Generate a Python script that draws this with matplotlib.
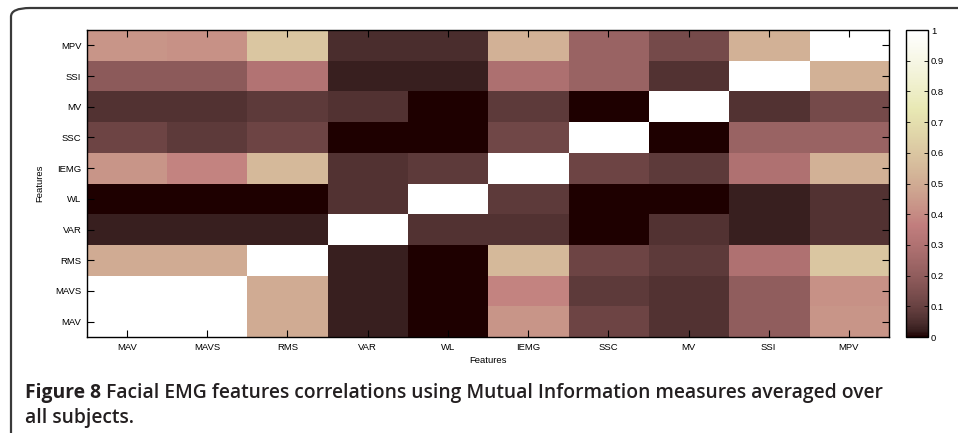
import numpy as np
import matplotlib.pyplot as plt
from matplotlib.patches import FancyBboxPatch

# features, bottom row / left column first
features = ['MAV', 'MAVS', 'RMS', 'VAR', 'WL', 'IEMG', 'SSC', 'MV', 'SSI', 'MPV']

# mutual information averaged over subjects
mi_mav = [1.00, 1.00, 0.50, 0.025, 0.00, 0.43, 0.11, 0.06, 0.20, 0.43]
mi_mavs = [1.00, 1.00, 0.50, 0.025, 0.00, 0.38, 0.08, 0.06, 0.20, 0.42]
mi_rms = [0.50, 0.50, 1.00, 0.025, 0.00, 0.55, 0.11, 0.08, 0.30, 0.60]
mi_var = [0.025, 0.025, 0.025, 1.00, 0.06, 0.06, 0.00, 0.06, 0.025, 0.06]
mi_wl = [0.00, 0.00, 0.00, 0.06, 1.00, 0.08, 0.00, 0.00, 0.025, 0.06]
mi_iemg = [0.43, 0.38, 0.55, 0.06, 0.08, 1.00, 0.11, 0.08, 0.30, 0.52]
mi_ssc = [0.11, 0.08, 0.11, 0.00, 0.00, 0.12, 1.00, 0.00, 0.23, 0.23]
mi_mv = [0.06, 0.06, 0.08, 0.06, 0.00, 0.08, 0.00, 1.00, 0.06, 0.13]
mi_ssi = [0.19, 0.19, 0.31, 0.025, 0.025, 0.29, 0.23, 0.06, 1.00, 0.52]
mi_mpv = [0.43, 0.42, 0.60, 0.05, 0.05, 0.52, 0.23, 0.13, 0.52, 1.00]

cbar_ticks = [0, 0.1, 0.2, 0.3, 0.4, 0.5, 0.6, 0.7, 0.8, 0.9, 1]

M = np.array([mi_mav, mi_mavs, mi_rms, mi_var, mi_wl,
              mi_iemg, mi_ssc, mi_mv, mi_ssi, mi_mpv])

plt.rcParams['font.family'] = ['Liberation Sans', 'DejaVu Sans']

fig = plt.figure(figsize=(9.58, 4.33), dpi=100)

ax = fig.add_axes([0.0908, 0.2217, 0.8372, 0.709])
im = ax.imshow(M, cmap='pink', vmin=0, vmax=1, aspect='auto',
               origin='lower', interpolation='nearest')

ax.set_xticks(np.arange(len(features)))
ax.set_xticklabels(features, fontsize=6.8)
ax.set_yticks(np.arange(len(features)))
ax.set_yticklabels(features, fontsize=6.8)
ax.tick_params(direction='in', top=True, right=True, length=5, width=0.8, pad=4)
ax.set_xlabel('Features', fontsize=6.8, labelpad=3)
ax.set_ylabel('Features', fontsize=6.8, labelpad=8)
for s in ax.spines.values():
    s.set_linewidth(1.0)

cax = fig.add_axes([0.9457, 0.2217, 0.023, 0.709])
cb = fig.colorbar(im, cax=cax, ticks=cbar_ticks)
cb.ax.set_yticklabels(['0', '0.1', '0.2', '0.3', '0.4', '0.5', '0.6', '0.7', '0.8', '0.9', '1'])
cb.ax.tick_params(labelsize=6.8, direction='in', left=True, right=True, length=3, width=0.6, pad=2)
cb.outline.set_linewidth(1.0)

# frame around the figure, rounded corner top left
frame = FancyBboxPatch((11 / 958, -0.2), 1.2, (433 - 8) / 433 + 0.2,
                       boxstyle='round,pad=0,rounding_size=0.02',
                       transform=fig.transFigure, fill=False,
                       edgecolor='#3a3a3a', linewidth=1.6, clip_on=False)
fig.patches.append(frame)

# caption
cap_color = '#231f20'
cap_size = 13.9
t1 = fig.text(25 / 958, 1 - 393 / 433, 'Figure 8', fontsize=cap_size, fontweight='bold',
              family='Open Sans', color=cap_color, va='center', ha='left')
r = fig.canvas.get_renderer()
bb = t1.get_window_extent(renderer=r)
fig.text(bb.x1 / 958 + 0.005, 1 - 393 / 433,
         'Facial EMG features correlations using Mutual Information measures averaged over',
         fontsize=cap_size, fontweight='semibold', family='Open Sans', color=cap_color,
         va='center', ha='left')
fig.text(25 / 958, 1 - 418 / 433, 'all subjects.', fontsize=cap_size, fontweight='semibold',
         family='Open Sans', color=cap_color, va='center', ha='left')

plt.savefig('out.png', dpi=100)
